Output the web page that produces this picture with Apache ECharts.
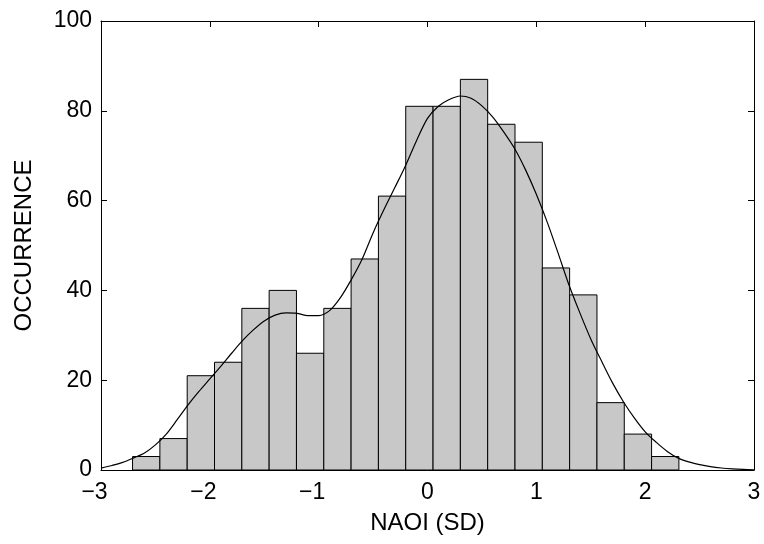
<!DOCTYPE html>
<html>
<head>
<meta charset="utf-8">
<script src="https://cdn.jsdelivr.net/npm/echarts@6/dist/echarts.min.js"></script>
<style>
  html, body { margin: 0; padding: 0; background: #fff; }
  #chart { width: 764px; height: 544px; }
</style>
</head>
<body>
<div id="chart"></div>
<script>
// 直方图的分箱边界 (NAOI, SD)
var binEdges = [-2.71, -2.459, -2.208, -1.957, -1.706, -1.455, -1.204, -0.953, -0.702, -0.451,
                -0.2, 0.051, 0.302, 0.553, 0.804, 1.055, 1.306, 1.557, 1.808, 2.059, 2.31];
// 每个分箱的次数
var counts = [3, 7, 21, 24, 36, 40, 26, 36, 47, 61, 81, 81, 87, 77, 73, 45, 39, 15, 8, 3];

// 平滑曲线
var curveX = [-3.0, -2.9, -2.8, -2.7, -2.6, -2.5, -2.4, -2.3, -2.2, -2.1, -2.0, -1.9, -1.8, -1.7, -1.6,
              -1.5, -1.4, -1.3, -1.2, -1.1, -1.0, -0.9, -0.8, -0.7, -0.6, -0.5, -0.4, -0.3, -0.2, -0.1,
              0.0, 0.1, 0.2, 0.3, 0.4, 0.5, 0.6, 0.7, 0.8, 0.9, 1.0, 1.1, 1.2, 1.3, 1.4,
              1.5, 1.6, 1.7, 1.8, 1.9, 2.0, 2.1, 2.2, 2.3, 2.4, 2.5, 2.6, 2.7, 2.8, 2.9, 3.0];
var curveY = [0.4, 1.0, 1.7, 2.7, 3.8, 5.6, 8.0, 11.2, 14.5, 17.5, 20.3, 23.1, 26.0, 28.8, 31.2,
              33.2, 34.5, 35.0, 34.9, 34.4, 34.4, 35.5, 38.4, 42.4, 47.0, 52.8, 58.0, 62.9, 67.9, 73.4,
              78.3, 81.0, 82.5, 83.3, 82.8, 81.1, 78.6, 75.3, 71.6, 66.9, 61.4, 55.2, 48.3, 41.2, 35.0,
              29.2, 24.2, 19.4, 15.2, 11.6, 8.5, 6.2, 4.2, 2.7, 1.8, 1.2, 0.75, 0.45, 0.25, 0.12, 0.05];

var xTicks = [-3, -2, -1, 0, 1, 2, 3];
var yTicks = [0, 20, 40, 60, 80, 100];

var barData = [];
for (var i = 0; i < counts.length; i++) {
    barData.push([binEdges[i], binEdges[i + 1], counts[i]]);
}
var lineData = [];
for (var j = 0; j < curveX.length; j++) {
    lineData.push([curveX[j], curveY[j]]);
}

var font = 'Liberation Sans, Arial, Helvetica, sans-serif';
// 负号挂在数字左边, 数字对准刻度
var fmtX = function (v) {
    if (v < 0) return '{m|\u2212}{n|' + Math.abs(v) + '}{s|}';
    return '{n|' + v + '}';
};

var baseX = {
    type: 'value', min: xTicks[0], max: xTicks[xTicks.length - 1], interval: 1,
    axisLine: { show: true, onZero: false, lineStyle: { color: '#000', width: 1 } },
    axisTick: { show: true, inside: true, length: 6, lineStyle: { color: '#000' } },
    splitLine: { show: false }
};
var baseY = {
    type: 'value', min: yTicks[0], max: yTicks[yTicks.length - 1], interval: 20,
    axisLine: { show: true, onZero: false, lineStyle: { color: '#000', width: 1 } },
    axisTick: { show: true, inside: true, length: 6, lineStyle: { color: '#000' } },
    splitLine: { show: false }
};

var myChart = echarts.init(document.getElementById('chart'));
var option = {
    backgroundColor: '#fff',
    animation: false,
    grid: { left: 101, right: 10, top: 21, bottom: 74, containLabel: false },
    xAxis: [
        Object.assign({}, baseX, {
            position: 'bottom',
            name: 'NAOI (SD)', nameLocation: 'middle', nameGap: 41,
            nameTextStyle: { color: '#000', fontSize: 24, fontFamily: font },
            axisLabel: {
                color: '#000', fontSize: 23, fontFamily: font, margin: 11, formatter: fmtX,
                rich: {
                    m: { color: '#000', fontSize: 23, fontFamily: font },
                    n: { color: '#000', fontSize: 23, fontFamily: font },
                    s: { width: 13 }
                }
            }
        }),
        Object.assign({}, baseX, { position: 'top', axisLabel: { show: false } })
    ],
    yAxis: [
        Object.assign({}, baseY, {
            position: 'left',
            name: 'OCCURRENCE', nameLocation: 'middle', nameGap: 65,
            nameTextStyle: { color: '#000', fontSize: 24, fontFamily: font },
            axisLabel: { color: '#000', fontSize: 23, fontFamily: font, margin: 9 }
        }),
        Object.assign({}, baseY, { position: 'right', axisLabel: { show: false } })
    ],
    series: [
        {
            type: 'custom',
            xAxisIndex: 0, yAxisIndex: 0,
            data: barData,
            renderItem: function (params, api) {
                var p0 = api.coord([api.value(0), api.value(2)]);
                var p1 = api.coord([api.value(1), 0]);
                return {
                    type: 'rect',
                    shape: { x: p0[0], y: p0[1], width: p1[0] - p0[0], height: p1[1] - p0[1] },
                    style: { fill: '#c8c8c8', stroke: '#000', lineWidth: 1 }
                };
            },
            z: 2
        },
        {
            type: 'line',
            xAxisIndex: 0, yAxisIndex: 0,
            data: lineData,
            smooth: 0.3,
            showSymbol: false,
            lineStyle: { color: '#000', width: 1.2 },
            z: 3
        }
    ]
};
myChart.setOption(option);
</script>
</body>
</html>
